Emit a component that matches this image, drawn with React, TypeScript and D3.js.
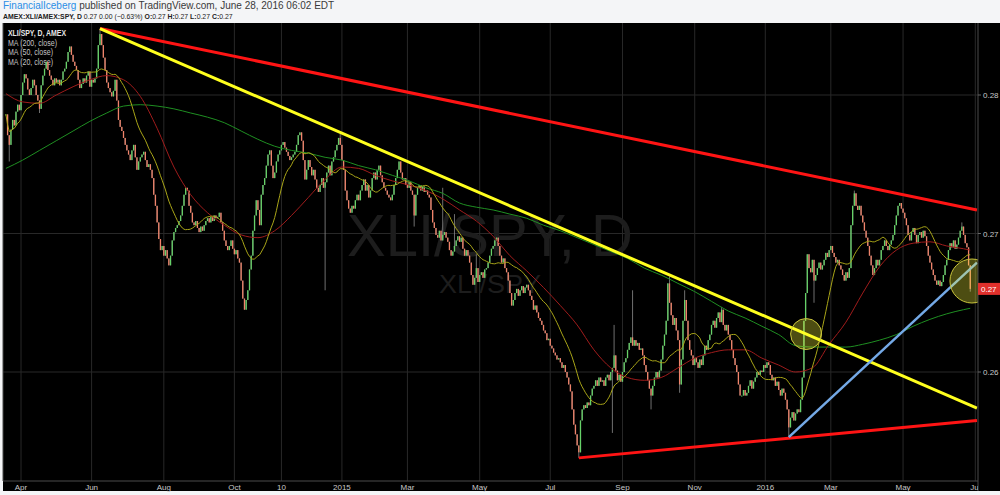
import React from "react";
import * as d3 from "d3";

// ---- trading calendar -------------------------------------------------------
const FIRST_SESSION = "2014-03-19";
const CALENDAR_END = "2016-07-05";
const MARKET_HOLIDAYS = [
  "2014-04-18", "2014-05-26", "2014-07-04", "2014-09-01", "2014-11-27", "2014-12-25",
  "2015-01-01", "2015-01-19", "2015-02-16", "2015-04-03", "2015-05-25", "2015-07-03",
  "2015-09-07", "2015-11-26", "2015-12-25", "2016-01-01", "2016-01-18", "2016-02-15",
  "2016-03-25", "2016-05-30", "2016-07-04",
];

// ---- XLI/SPY daily closes (ratio x 10^4), one per session from FIRST_SESSION ----
const closeBp = [
  2786, 2771, 2764, 2775, 2782, 2778, 2788, 2793, 2789, 2800,
  2809, 2815, 2812, 2804, 2800, 2805, 2811, 2807, 2800, 2796,
  2790, 2807, 2814, 2819, 2824, 2818, 2814, 2811, 2807, 2812,
  2809, 2811, 2807, 2811, 2817, 2819, 2824, 2831, 2835, 2829,
  2824, 2821, 2818, 2811, 2805, 2808, 2812, 2809, 2814, 2817,
  2806, 2811, 2809, 2812, 2819, 2836, 2844, 2836, 2827, 2818,
  2809, 2805, 2802, 2799, 2803, 2811, 2796, 2782, 2777, 2774,
  2769, 2764, 2760, 2757, 2753, 2760, 2764, 2755, 2746, 2752,
  2755, 2757, 2759, 2753, 2748, 2750, 2746, 2740, 2728, 2720,
  2708, 2696, 2688, 2691, 2684, 2688, 2682, 2677, 2684, 2695,
  2701, 2704, 2706, 2709, 2713, 2720, 2728, 2733, 2731, 2720,
  2715, 2708, 2706, 2709, 2704, 2701, 2705, 2702, 2706, 2709,
  2711, 2708, 2712, 2709, 2713, 2711, 2712, 2715, 2708, 2702,
  2695, 2691, 2688, 2691, 2695, 2689, 2685, 2688, 2682, 2679,
  2666, 2653, 2645, 2652, 2659, 2674, 2684, 2702, 2713, 2724,
  2717, 2706, 2728, 2735, 2740, 2749, 2757, 2760, 2749, 2740,
  2744, 2752, 2757, 2760, 2764, 2766, 2762, 2759, 2756, 2753,
  2755, 2757, 2759, 2764, 2771, 2773, 2767, 2753, 2739, 2746,
  2753, 2748, 2742, 2746, 2739, 2733, 2730, 2735, 2740, 2733,
  2737, 2744, 2749, 2742, 2752, 2755, 2760, 2764, 2769, 2764,
  2753, 2746, 2731, 2724, 2718, 2715, 2720, 2718, 2724, 2728,
  2724, 2731, 2735, 2739, 2731, 2735, 2726, 2731, 2740, 2744,
  2739, 2746, 2749, 2742, 2737, 2733, 2731, 2728, 2726, 2724,
  2728, 2735, 2740, 2746, 2752, 2744, 2739, 2740, 2735, 2733,
  2737, 2731, 2728, 2713, 2728, 2733, 2735, 2731, 2734, 2730,
  2731, 2728, 2726, 2717, 2708, 2704, 2699, 2697, 2702, 2695,
  2699, 2701, 2697, 2694, 2688, 2684, 2687, 2691, 2695, 2698,
  2694, 2697, 2689, 2684, 2688, 2684, 2679, 2670, 2663, 2668,
  2675, 2665, 2670, 2672, 2668, 2674, 2675, 2679, 2684, 2689,
  2691, 2695, 2697, 2691, 2684, 2679, 2682, 2675, 2672, 2666,
  2657, 2648, 2652, 2657, 2660, 2655, 2659, 2662, 2657, 2661,
  2663, 2659, 2655, 2652, 2645, 2648, 2643, 2639, 2637, 2634,
  2630, 2628, 2623, 2624, 2619, 2617, 2614, 2612, 2609, 2610,
  2607, 2603, 2605, 2600, 2596, 2591, 2586, 2573, 2562, 2555,
  2547, 2542, 2565, 2573, 2576, 2574, 2578, 2576, 2583, 2588,
  2590, 2594, 2590, 2596, 2593, 2594, 2590, 2596, 2598, 2594,
  2600, 2603, 2612, 2601, 2594, 2598, 2593, 2600, 2607, 2610,
  2616, 2621, 2625, 2619, 2623, 2619, 2621, 2616, 2617, 2612,
  2605, 2600, 2594, 2588, 2583, 2590, 2596, 2600, 2596, 2601,
  2609, 2619, 2627, 2637, 2664, 2650, 2641, 2634, 2639, 2630,
  2623, 2591, 2609, 2637, 2652, 2637, 2623, 2616, 2612, 2605,
  2610, 2607, 2603, 2609, 2605, 2612, 2619, 2616, 2623, 2627,
  2634, 2637, 2632, 2639, 2643, 2636, 2645, 2634, 2630, 2634,
  2627, 2623, 2616, 2610, 2605, 2600, 2591, 2583, 2583, 2587,
  2583, 2585, 2590, 2594, 2588, 2593, 2596, 2600, 2598, 2601,
  2600, 2605, 2603, 2607, 2605, 2598, 2594, 2596, 2590, 2593,
  2587, 2583, 2588, 2585, 2580, 2573, 2560, 2567, 2571, 2565,
  2570, 2573, 2571, 2580, 2596, 2637, 2657, 2685, 2675, 2672,
  2681, 2666, 2670, 2675, 2679, 2674, 2677, 2681, 2686, 2683,
  2688, 2691, 2686, 2683, 2679, 2681, 2677, 2674, 2670, 2666,
  2672, 2668, 2675, 2706, 2720, 2729, 2720, 2717, 2720, 2713,
  2708, 2702, 2697, 2691, 2684, 2677, 2670, 2675, 2681, 2677,
  2681, 2688, 2691, 2695, 2691, 2688, 2692, 2695, 2699, 2706,
  2713, 2720, 2722, 2718, 2715, 2711, 2706, 2699, 2695, 2701,
  2704, 2699, 2693, 2699, 2701, 2697, 2702, 2698, 2691, 2684,
  2679, 2674, 2670, 2666, 2663, 2666, 2662, 2665, 2670, 2677,
  2681, 2688, 2693, 2690, 2695, 2689, 2692, 2697, 2702, 2705,
  2699, 2693, 2690, 2677, 2660,
];

// session number -> intraday extreme beyond the body (ratio x 10^4)
const sessionHighs: [number, number][] = [
  [56, 2848], [199, 2772], [260, 2733], [267, 2714], [280, 2685], [362, 2634],
  [373, 2659], [395, 2669], [404, 2659], [426, 2647], [505, 2731], [532, 2722],
  [569, 2708],
];
const sessionLows: [number, number][] = [
  [2, 2752], [20, 2787], [190, 2659], [243, 2705], [341, 2538], [361, 2556],
  [384, 2573], [401, 2585], [466, 2553], [481, 2650], [574, 2658],
];

// moving averages sampled every 10 sessions (plus the last one)
const maSampleSessions = [...d3.range(0, 571, 10), 574];
const ma50Bp = [
  2801, 2795, 2794, 2800, 2806, 2811, 2814, 2811, 2799, 2776,
  2748, 2728, 2715, 2706, 2699, 2697, 2702, 2713, 2726, 2739,
  2748, 2747, 2742, 2738, 2735, 2731, 2725, 2717, 2709, 2698,
  2684, 2673, 2661, 2648, 2634, 2616, 2603, 2596, 2594, 2596,
  2603, 2610, 2614, 2616, 2616, 2610, 2605, 2600, 2603, 2620,
  2636, 2657, 2676, 2688, 2693, 2694, 2691, 2689, 2688,
];
const ma200Bp = [
  2747, 2753, 2760, 2767, 2774, 2781, 2787, 2792, 2793, 2792,
  2790, 2787, 2784, 2780, 2774, 2768, 2763, 2760, 2758, 2755,
  2753, 2749, 2746, 2742, 2738, 2733, 2729, 2722, 2719, 2717,
  2714, 2711, 2706, 2702, 2697, 2692, 2687, 2682, 2675, 2670,
  2664, 2658, 2651, 2644, 2639, 2633, 2627, 2619, 2618, 2618,
  2618, 2620, 2623, 2627, 2633, 2638, 2642, 2645, 2646,
];

// drawn trend lines: [session, ratio] anchor pairs
const resistanceLine: [number, number][] = [[56, 0.2848], [578, 0.2717]];
const breakoutLine: [number, number][] = [[56, 0.2848], [578, 0.2574]];
const supportLine: [number, number][] = [[341, 0.2538], [578, 0.2565]];
const risingLine: [number, number][] = [[466, 0.2553], [578, 0.2679]];
// highlighted spots: [session, ratio]
const highlights: [number, number][] = [[476.3, 0.26274], [575, 0.26657]];

const legendLines = ["XLI/SPY, D, AMEX", "MA (200, close)", "MA (50, close)", "MA (20, close)"];

const priceTicks = [0.26, 0.27, 0.28];
const timeTickDates = [
  "2014-04-01", "2014-06-02", "2014-08-01", "2014-10-01", "2014-11-10", "2015-01-02",
  "2015-03-02", "2015-05-01", "2015-07-01", "2015-09-01", "2015-11-02", "2016-01-04",
  "2016-03-01", "2016-05-02", "2016-07-01",
];
const timeTickLabels = [
  "Apr", "Jun", "Aug", "Oct", "10", "2015", "Mar", "May", "Jul", "Sep", "Nov", "2016",
  "Mar", "May", "Jul",
];

function buildSessions(): string[] {
  const out: string[] = [];
  const closed = new Set(MARKET_HOLIDAYS);
  const end = Date.parse(CALENDAR_END + "T00:00:00Z");
  for (let t = Date.parse(FIRST_SESSION + "T00:00:00Z"); t <= end; t += 86400000) {
    const d = new Date(t);
    const wd = d.getUTCDay();
    const iso = d.toISOString().slice(0, 10);
    if (wd === 0 || wd === 6 || closed.has(iso)) continue;
    out.push(iso);
  }
  return out;
}

const FONT = "'Liberation Sans', Arial, sans-serif";
const UP = "#66d168";
const DOWN = "#f0836a";
// rendered widths of the pane legend rows
const LEGEND_WIDTHS = [58, 49, 45, 45];

export default function App() {
  const sessions = buildSessions();
  const plot = { left: 3, right: 978, top: 23, bottom: 481 };

  const lastTick = sessions.indexOf(timeTickDates[timeTickDates.length - 1]);
  const x = d3.scaleLinear().domain([0, lastTick]).range([5.9, 975.3]);
  const y = d3.scaleLinear().domain([0.26, 0.28]).range([372, 95]);

  const closes = closeBp.map((v) => v / 1e4);
  const highMap = new Map(sessionHighs.map(([i, v]) => [i, v / 1e4]));
  const lowMap = new Map(sessionLows.map(([i, v]) => [i, v / 1e4]));
  const bars = closes.map((c, i) => {
    const o = i > 0 ? closes[i - 1] : c;
    const hi = Math.max(o, c, highMap.get(i) ?? 0);
    const lo = Math.min(o, c, lowMap.get(i) ?? 1);
    return { i, o, c, hi, lo };
  });

  const ma20 = closes.map((_, i) => {
    const w = closes.slice(Math.max(0, i - 19), i + 1);
    return [i, d3.mean(w) as number] as [number, number];
  });
  const ma50 = maSampleSessions.map((s, k) => [s, ma50Bp[k] / 1e4] as [number, number]);
  const ma200 = maSampleSessions.map((s, k) => [s, ma200Bp[k] / 1e4] as [number, number]);

  const smooth = d3
    .line<[number, number]>()
    .x((d) => x(d[0]))
    .y((d) => y(d[1]))
    .curve(d3.curveMonotoneX);
  const straight = d3
    .line<[number, number]>()
    .x((d) => x(d[0]))
    .y((d) => y(d[1]));

  const ticksX = timeTickDates.map((d, k) => ({ x: x(sessions.indexOf(d)), label: timeTickLabels[k] }));
  const last = bars[bars.length - 1];
  const bodyW = 1.3;

  return (
    <svg
      width={1000}
      height={495}
      style={{ position: "absolute", left: 0, top: 0, display: "block" }}
      fontFamily={FONT}
    >
      <defs>
        <clipPath id="plotArea">
          <rect x={plot.left} y={plot.top} width={plot.right - plot.left} height={plot.bottom - plot.top} />
        </clipPath>
        <clipPath id="timeAxis">
          <rect x={plot.left} y={plot.bottom} width={plot.right - plot.left} height={14} />
        </clipPath>
      </defs>

      <rect x={0} y={0} width={1000} height={495} fill="#f4f5f7" />

      {/* publication header */}
      <text x={3} y={9} fontSize={10} fill="#3a3a3a">
        <tspan fill="#2a8ee6">FinancialIceberg</tspan>
        <tspan> published on TradingView.com, June 28, 2016 06:02 EDT</tspan>
      </text>
      <text x={3} y={18.5} fontSize={6.9} fill="#222">
        <tspan fontWeight="bold">AMEX:XLI/AMEX:SPY, D</tspan>
        <tspan> 0.27 0.00 (−0.63%) </tspan>
        <tspan fontWeight="bold">O:</tspan>
        <tspan>0.27 </tspan>
        <tspan fontWeight="bold">H:</tspan>
        <tspan>0.27 </tspan>
        <tspan fontWeight="bold">L:</tspan>
        <tspan>0.27 </tspan>
        <tspan fontWeight="bold">C:</tspan>
        <tspan>0.27</tspan>
      </text>

      {/* chart pane */}
      <rect x={plot.left} y={plot.top} width={1000 - plot.left} height={491 - plot.top} fill="#000" />

      {/* grid */}
      <g stroke="#282828" strokeWidth={1}>
        {priceTicks.map((t) => (
          <line key={t} x1={plot.left} x2={plot.right} y1={y(t)} y2={y(t)} />
        ))}
        {ticksX.map((t) => (
          <line key={t.label + t.x} x1={t.x} x2={t.x} y1={plot.top} y2={plot.bottom} />
        ))}
      </g>

      {/* symbol watermark */}
      <g clipPath="url(#plotArea)" fill="#1d1d1d">
        <text x={347} y={256} fontSize={60} textLength={286} lengthAdjust="spacingAndGlyphs">
          XLI/SPY, D
        </text>
        <text x={439} y={293} fontSize={26} textLength={102} lengthAdjust="spacingAndGlyphs">
          XLI/SPY
        </text>
      </g>

      {/* legend */}
      <g fontSize={8.5}>
        {legendLines.map((t, k) => (
          <text
            key={t}
            x={8}
            y={36 + k * 9.5}
            fill={k === 0 ? "#e6e6e6" : "#c4c4c4"}
            fontWeight={k === 0 ? "bold" : "normal"}
            textLength={LEGEND_WIDTHS[k]}
            lengthAdjust="spacingAndGlyphs"
          >
            {t}
          </text>
        ))}
      </g>

      <g clipPath="url(#plotArea)">
        {/* candles */}
        <g>
          {bars.map((b) => {
            const cx = x(b.i);
            const top = y(Math.max(b.o, b.c));
            const bot = y(Math.min(b.o, b.c));
            return (
              <g key={b.i}>
                <line x1={cx} x2={cx} y1={y(b.hi)} y2={y(b.lo)} stroke="#8c8c8c" strokeWidth={0.8} />
                <rect
                  x={cx - bodyW / 2}
                  y={top}
                  width={bodyW}
                  height={Math.max(1, bot - top)}
                  fill={b.c >= b.o ? UP : DOWN}
                />
              </g>
            );
          })}
        </g>

        {/* moving averages */}
        <path d={smooth(ma200) ?? ""} fill="none" stroke="#1f8f22" strokeWidth={1} />
        <path d={smooth(ma50) ?? ""} fill="none" stroke="#a01c1c" strokeWidth={1} />
        <path d={straight(ma20) ?? ""} fill="none" stroke="#a9a518" strokeWidth={1} />

        {/* trend lines */}
        <path d={straight(resistanceLine) ?? ""} stroke="#ff1414" strokeWidth={3} fill="none" />
        <path d={straight(breakoutLine) ?? ""} stroke="#ffff1e" strokeWidth={3} fill="none" />
        <path d={straight(supportLine) ?? ""} stroke="#ff1414" strokeWidth={3} fill="none" />
        <path d={straight(risingLine) ?? ""} stroke="#74a9e6" strokeWidth={2.5} fill="none" />

        {/* highlighted areas */}
        {highlights.map(([s, v], k) => (
          <circle
            key={k}
            cx={x(s)}
            cy={y(v)}
            r={k === 0 ? 15.5 : 22}
            fill="#ffff3c"
            fillOpacity={0.3}
            stroke="#c9c43c"
            strokeWidth={1}
          />
        ))}
      </g>

      {/* axes */}
      <line x1={plot.left} x2={plot.left} y1={plot.top} y2={plot.bottom} stroke="#4a4a4a" />
      <line x1={plot.left} x2={plot.right} y1={plot.bottom} y2={plot.bottom} stroke="#4a4a4a" />
      <line x1={plot.right} x2={plot.right} y1={plot.top} y2={491} stroke="#4a4a4a" />

      <g fontSize={8} fill="#c8c8c8">
        {priceTicks.map((t) => (
          <g key={t}>
            <line x1={plot.right} x2={plot.right + 3} y1={y(t)} y2={y(t)} stroke="#666" />
            <text x={plot.right + 5} y={y(t) + 3}>{d3.format(".2f")(t)}</text>
          </g>
        ))}
      </g>

      <g fontSize={8} fill="#c8c8c8" textAnchor="middle" clipPath="url(#timeAxis)">
        {ticksX.map((t) => (
          <text key={t.label + t.x} x={t.x} y={490}>{t.label}</text>
        ))}
      </g>

      {/* last price marker */}
      <rect x={plot.right} y={y(last.c) - 6} width={22} height={12} fill="#e0302c" />
      <text x={plot.right + 3} y={y(last.c) + 3} fontSize={8} fill="#fff">
        {d3.format(".2f")(last.c)}
      </text>
    </svg>
  );
}
